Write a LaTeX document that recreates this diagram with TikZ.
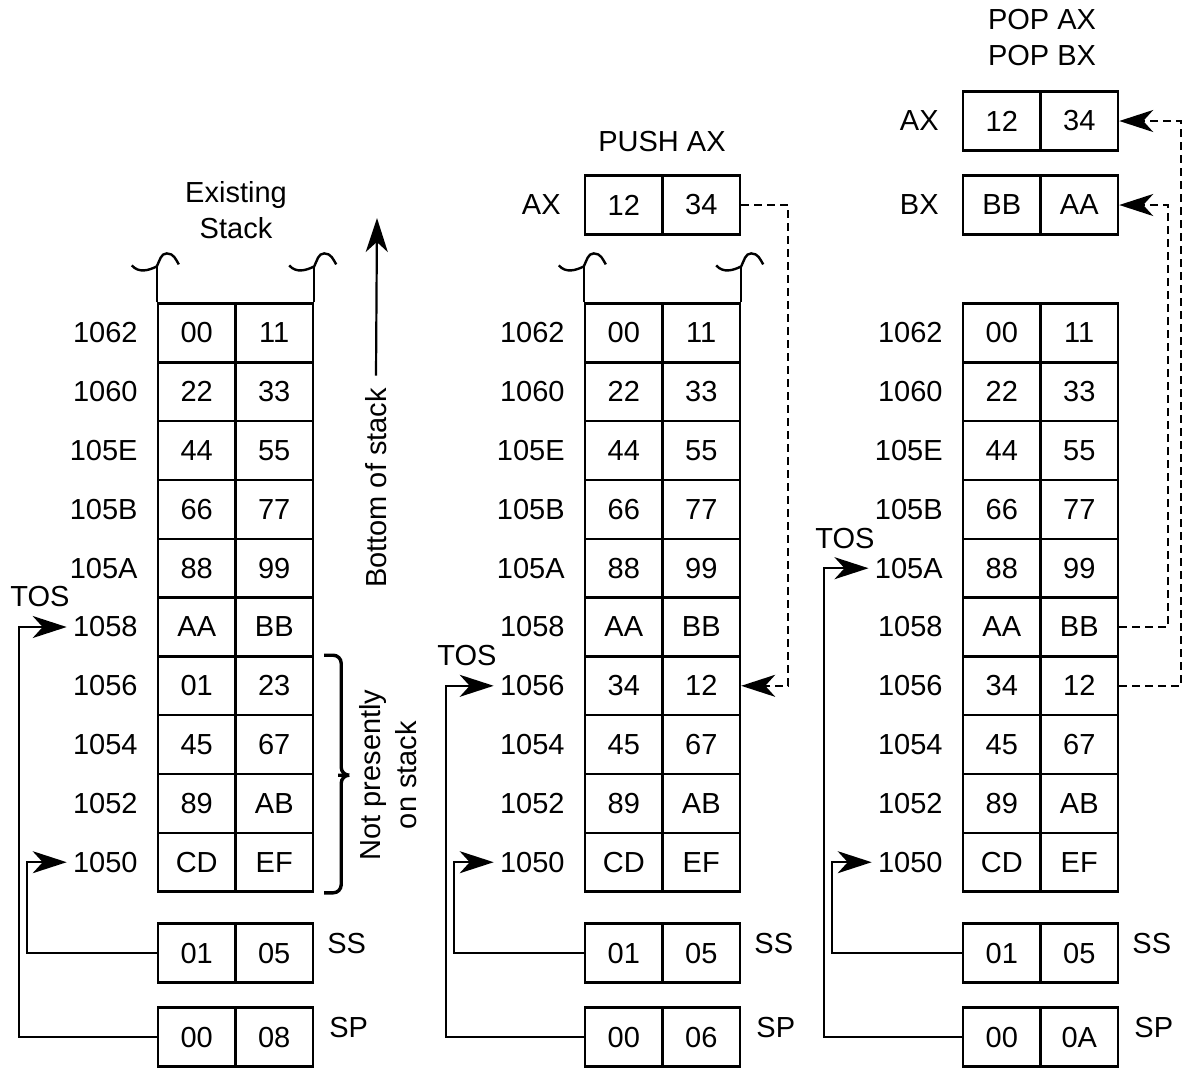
\documentclass[tikz,border=0pt]{standalone}
\usepackage{fontspec}
\setmainfont{Liberation Sans}
\usetikzlibrary{arrows.meta}

\tikzset{
  cell/.style={draw,line width=1.2pt,minimum width=38.75pt,minimum height=29.4pt,inner sep=0pt},
  lbl/.style={inner sep=3pt},
  wall/.style={line width=1.2pt},
  ptr/.style={line width=1.1pt,-{Stealth[length=17pt,width=11pt,inset=5pt]}},
  dptr/.style={ptr,dash pattern=on 4pt off 2.5pt},
}

\begin{document}
\begin{tikzpicture}[x=0.5pt,y=-0.5pt,font=\fontsize{14.5}{18}\selectfont]
  \useasboundingbox (0,0) rectangle (1187,1072);
  \foreach \st/\lx/\vh/\vl/\spv/\tos/\ti in {a/158/01/23/08/1058/5,b/585/34/12/06/1056/6,c/963/34/12/0A/105A/4}{
    \foreach \ad/\hi/\lo [count=\i from 0] in {1062/00/11,1060/22/33,105E/44/55,105B/66/77,105A/88/99,1058/AA/BB,1056/\vh/\vl,1054/45/67,1052/89/AB,1050/CD/EF}{
      \node[cell] (\st-\ad-h) at (\lx+38.75,333+58.8*\i) {\hi};
      \node[cell] (\st-\ad-l) at (\lx+116.25,333+58.8*\i) {\lo};
      \node[lbl,anchor=east] (\st-\ad) at (\lx-14,333+58.8*\i) {\ad};
    }
    \node[cell] (\st-ss-h) at (\lx+38.75,953) {01};
    \node[cell] (\st-ss-l) at (\lx+116.25,953) {05};
    \node[cell] (\st-sp-h) at (\lx+38.75,1037) {00};
    \node[cell] (\st-sp-l) at (\lx+116.25,1037) {\spv};
    \node[lbl,anchor=west] (\st-ssl) at (\lx+163,943) {SS};
    \node[lbl,anchor=west] (\st-spl) at (\lx+165,1027) {SP};
    \node[lbl] (\st-tos) at (\lx-118,333+58.8*\ti-30) {TOS};
    \draw[ptr] (\st-sp-h.west) -- ++(-138,0) |- (\st-\tos.west);
    \draw[ptr] (\st-ss-h.west) -- ++(-130,0) |- (\st-1050.west);
  }
  \foreach \c in {a-1062-h.north west,a-1062-l.north east,b-1062-h.north west,b-1062-l.north east}{
    \draw[wall] (\c) -- ++(0,-36) coordinate (t);
    \draw[wall] ([shift={(-25,-1)}]t) .. controls +(7,8) and +(-8,4) .. (t)
      .. controls +(3,-6) and +(-6,0) .. ([shift={(10,-13)}]t)
      .. controls +(7,0) and +(-3,-5) .. ([shift={(22,-2)}]t);
  }
  \node[align=center] (a-title) at (236,210) {Existing\\Stack};
  \node (b-title) at (662,142) {PUSH AX};
  \node[align=center] (c-title) at (1042,38) {POP AX\\POP BX};

  \node[lbl,rotate=90,inner sep=6pt] (bos) at (376,488) {Bottom of stack};
  \coordinate (bostop) at (377,218);
  \draw[ptr] (bos.east) -- (bostop);
  \draw[line width=1.7pt,rounded corners=4pt]
    ([shift={(10,0)}]a-1056-l.north east) -- ++(17,0) |- ([shift={(32,0)}]a-1054-l.south east)
    -- ([shift={(27,0)}]a-1054-l.south east) |- ([shift={(10,0)}]a-1050-l.south east);
  \node[align=center,rotate=90] (nps) at (388,775) {Not presently\\on stack};

  \node[cell] (b-ax-h) at (623.75,205) {12};
  \node[cell] (b-ax-l) at (701.25,205) {34};
  \node[lbl,anchor=east] (b-ax) at (567,205) {AX};
  \node[cell] (c-ax-h) at (1001.75,121) {12};
  \node[cell] (c-ax-l) at (1079.25,121) {34};
  \node[lbl,anchor=east] (c-ax) at (945,121) {AX};
  \node[cell] (c-bx-h) at (1001.75,205) {BB};
  \node[cell] (c-bx-l) at (1079.25,205) {AA};
  \node[lbl,anchor=east] (c-bx) at (945,205) {BX};

  \draw[dptr] (b-ax-l.east) -- ++(47,0) |- (b-1056-l.east);
  \draw[dptr] (c-1058-l.east) -- ++(49,0) |- (c-bx-l.east);
  \draw[dptr] (c-1056-l.east) -- ++(62,0) |- (c-ax-l.east);
\end{tikzpicture}
\end{document}
